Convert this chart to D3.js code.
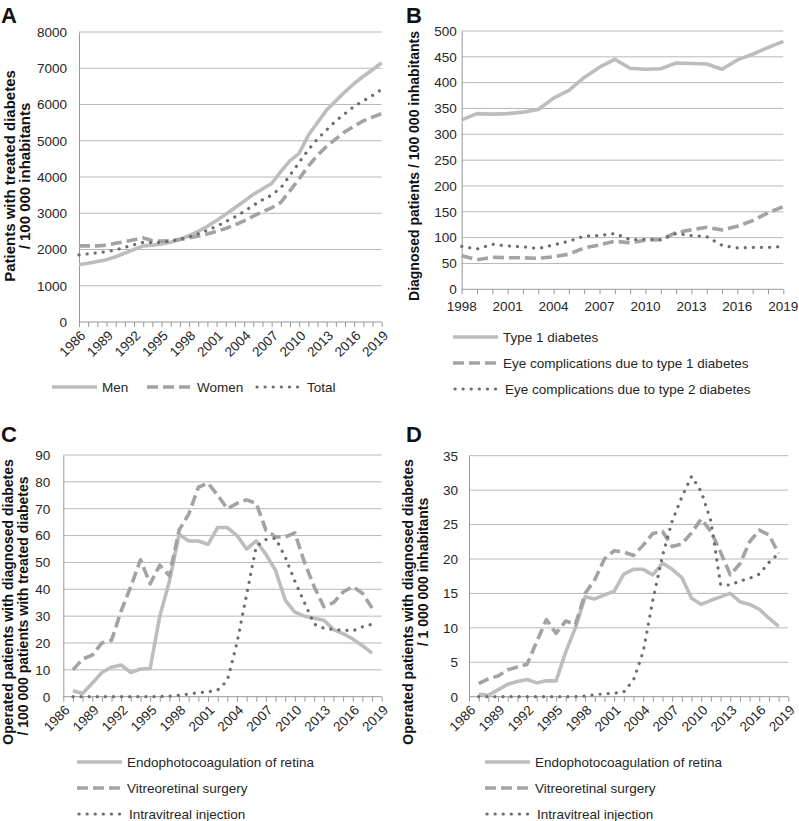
<!DOCTYPE html>
<html>
<head>
<meta charset="utf-8">
<script src="https://cdn.jsdelivr.net/npm/d3@7"></script>
<style>
  body { margin: 0; background: #fff; }
  svg { display: block; font-family: "Liberation Sans", Arial, sans-serif; }
</style>
</head>
<body>
<svg id="chart" width="799" height="821"></svg>
<script>
// ---------- DATA ----------
const yearsA = d3.range(1986, 2020);
const menA = [1580,1620,1670,1720,1800,1900,2000,2100,2120,2150,2200,2280,2380,2500,2640,2800,2970,3150,3330,3520,3670,3820,4150,4450,4650,5150,5500,5850,6100,6350,6580,6780,6960,7150];
const womenA = [2100,2100,2100,2120,2170,2220,2270,2320,2240,2230,2240,2280,2320,2370,2430,2500,2580,2680,2790,2920,3040,3150,3300,3620,3950,4300,4600,4850,5050,5250,5400,5550,5650,5750];
const totalA = [1850,1880,1910,1940,1990,2060,2130,2200,2190,2200,2230,2280,2350,2430,2530,2640,2770,2900,3050,3220,3370,3500,3700,4050,4400,4750,5050,5300,5550,5750,5950,6100,6250,6420];

const yearsB = d3.range(1998, 2020);
const type1B = [328,340,339,340,343,348,370,385,410,430,445,428,426,427,438,437,436,426,444,455,468,480];
const eyeT1B = [65,57,62,61,61,60,63,68,80,86,93,90,95,96,110,115,120,115,122,133,148,160];
const eyeT2B = [83,78,87,84,82,79,86,93,103,104,108,96,97,96,108,104,102,85,80,81,81,83];

const yearsCD = d3.range(1987, 2019);
const endoC = [2.2,1.2,5,9,11,11.8,9,10.3,10.5,30,43,60.5,58,58,56.7,63,63,60,55,58,53,47,36,31.5,30,29.2,28.5,25,23.5,21.5,19,16.2];
const vitreoC = [10,14,15.5,20,21,32,41,51,42,49,45,62,68,78,79.5,75,70,72,73.3,72,62,59.5,59.5,61,50,41,33.5,35,39,41,38.5,33];
const injectC = [0,0,0,0,0,0,0,0,0,0.1,0.2,0.5,1,1.5,1.8,2.5,6,20,38,56,58.5,59,52,43,35,27,25.5,25,24.8,24.5,26,27];

const endoD = [0.4,0.2,1,1.8,2.2,2.5,2.0,2.3,2.3,6.5,10,14.5,14.2,14.8,15.3,17.8,18.5,18.5,17.7,19.4,18.5,17.3,14.3,13.4,14,14.5,15,13.8,13.4,12.7,11.4,10.2];
const vitreoD = [1.9,2.6,3,3.9,4.3,4.7,8,11.2,9.2,11,10.5,15,17,20,21.2,21,20.5,22,23.7,24,21.8,22.2,23.8,25.8,24,21,17.7,19.3,22.5,24.2,23.5,20.8];
const injectD = [0,0,0,0,0,0,0,0,0,0,0,0.1,0.3,0.4,0.5,0.7,2.4,6.5,14,20.5,25.5,29,32,29.8,25.5,16.3,16.2,16.8,17.2,17.8,19.5,20.8];

const tickYearsA = d3.range(1986, 2020, 3);
const tickYearsB = d3.range(1998, 2020, 3);

// ---------- STYLES ----------
const styles = {
  solid:  { stroke: "#bdbdbd", width: 3.6, dash: null, cap: "butt" },
  dashed: { stroke: "#a3a3a3", width: 3.6, dash: "11,5", cap: "butt" },
  dotted: { stroke: "#6e6e6e", width: 3.2, dash: "0.1,8", cap: "round" }
};

const svg = d3.select("#chart");
const GRID = "#b8b8b8", AXIS = "#999999", TEXT = "#262626";

function panel(cfg) {
  const g = svg.append("g");
  const x = d3.scaleLinear().domain(cfg.xDomain).range([cfg.x0, cfg.x1]);
  const y = d3.scaleLinear().domain([0, cfg.yMax]).range([cfg.yB, cfg.yT]);

  const yt = d3.range(0, cfg.yMax + cfg.yStep / 2, cfg.yStep);
  g.append("g").selectAll("line").data(yt.filter(v => v > 0)).join("line")
    .attr("x1", cfg.x0).attr("x2", cfg.x1)
    .attr("y1", d => y(d)).attr("y2", d => y(d))
    .attr("stroke", GRID).attr("stroke-width", 1);

  const yAxis = d3.axisLeft(y).tickValues(yt).tickSize(0).tickPadding(cfg.yPad).tickFormat(d3.format("d"));
  const ya = g.append("g").attr("transform", `translate(${cfg.x0},0)`).call(yAxis);
  ya.select(".domain").attr("stroke", AXIS);
  ya.selectAll("text").attr("fill", TEXT).style("font-size", "13.5px");

  const allYears = d3.range(cfg.xDomain[0], cfg.xDomain[1] + 1);
  const xAxis = d3.axisBottom(x).tickValues(allYears).tickSize(5).tickFormat("");
  const xa = g.append("g").attr("transform", `translate(0,${cfg.yB})`).call(xAxis);
  xa.select(".domain").attr("stroke", AXIS).attr("d", `M${cfg.x0},0H${cfg.x1}`);
  xa.selectAll(".tick line").attr("stroke", AXIS);

  const lab = g.append("g");
  if (cfg.rotate) {
    lab.selectAll("text").data(cfg.xLabels).join("text")
      .attr("transform", d => `translate(${x(d) + 4},${cfg.yB + 11}) rotate(-45)`)
      .attr("text-anchor", "end").attr("dy", "0.35em")
      .attr("fill", TEXT).style("font-size", "13.5px").text(d => d);
  } else {
    lab.selectAll("text").data(cfg.xLabels).join("text")
      .attr("x", d => x(d)).attr("y", cfg.yB + 22)
      .attr("text-anchor", "middle")
      .attr("fill", TEXT).style("font-size", "13.5px").text(d => d);
  }

  const line = d3.line().x(d => x(d[0])).y(d => y(d[1]));
  cfg.series.forEach(s => {
    const st = styles[s.style];
    g.append("path")
      .datum(cfg.years.map((yr, i) => [yr, s.values[i]]))
      .attr("d", line).attr("fill", "none")
      .attr("stroke", st.stroke).attr("stroke-width", st.width)
      .attr("stroke-dasharray", st.dash).attr("stroke-linecap", st.cap)
      .attr("stroke-linejoin", "round");
  });

  cfg.titles.forEach(t => {
    g.append("text")
      .attr("transform", `translate(${t.x},${t.y}) rotate(-90)`)
      .attr("text-anchor", "middle").attr("dy", "0.35em")
      .attr("fill", "#111").style("font-size", t.size + "px").style("font-weight", "bold")
      .text(t.text);
  });

  g.append("text").attr("x", cfg.letter[0]).attr("y", cfg.letter[1])
    .style("font-size", "22px").style("font-weight", "bold").attr("fill", "#111")
    .text(cfg.letter[2]);

  cfg.legend.forEach(l => {
    const st = styles[l.style];
    g.append("line").attr("x1", l.x).attr("x2", l.x + 45).attr("y1", l.y).attr("y2", l.y)
      .attr("stroke", st.stroke).attr("stroke-width", st.width)
      .attr("stroke-dasharray", st.dash).attr("stroke-linecap", st.cap);
    g.append("text").attr("x", l.x + 50).attr("y", l.y).attr("dy", "0.35em")
      .attr("fill", TEXT).style("font-size", "13.5px").text(l.text);
  });
}

panel({
  xDomain: [1986, 2019], x0: 79, x1: 381.7, yT: 32, yB: 322, yMax: 8000, yStep: 1000, yPad: 12,
  rotate: true, xLabels: tickYearsA, years: yearsA,
  series: [{values: menA, style: "solid"}, {values: womenA, style: "dashed"}, {values: totalA, style: "dotted"}],
  titles: [{x: 9.5, y: 176, size: 15, text: "Patients with treated diabetes"}, {x: 24.5, y: 176, size: 15, text: "/ 100 000 inhabitants"}],
  letter: [1, 23, "A"],
  legend: [{x: 52, y: 387, style: "solid", text: "Men"}, {x: 147, y: 387, style: "dashed", text: "Women"}, {x: 257, y: 387, style: "dotted", text: "Total"}]
});

panel({
  xDomain: [1998, 2019], x0: 461.7, x1: 783.3, yT: 31, yB: 289.3, yMax: 500, yStep: 50, yPad: 5,
  rotate: false, xLabels: tickYearsB, years: yearsB,
  series: [{values: type1B, style: "solid"}, {values: eyeT1B, style: "dashed"}, {values: eyeT2B, style: "dotted"}],
  titles: [{x: 414, y: 166, size: 14, text: "Diagnosed patients / 100 000 inhabitants"}],
  letter: [406, 23, "B"],
  legend: [{x: 453, y: 337, style: "solid", text: "Type 1 diabetes"},
           {x: 453, y: 363, style: "dashed", text: "Eye complications due to type 1 diabetes"},
           {x: 455, y: 389, style: "dotted", text: "Eye complications due to type 2 diabetes"}]
});

panel({
  xDomain: [1986, 2019], x0: 63.3, x1: 381.7, yT: 455, yB: 696.7, yMax: 90, yStep: 10, yPad: 13,
  rotate: true, xLabels: tickYearsA, years: yearsCD,
  series: [{values: endoC, style: "solid"}, {values: vitreoC, style: "dashed"}, {values: injectC, style: "dotted"}],
  titles: [{x: 8.5, y: 602, size: 14, text: "Operated patients with diagnosed diabetes"}, {x: 23, y: 606, size: 14, text: "/ 100 000 patients with treated diabetes"}],
  letter: [1, 442, "C"],
  legend: [{x: 77, y: 762, style: "solid", text: "Endophotocoagulation of retina"},
           {x: 77, y: 788, style: "dashed", text: "Vitreoretinal surgery"},
           {x: 79, y: 814, style: "dotted", text: "Intravitreal injection"}]
});

panel({
  xDomain: [1986, 2019], x0: 469, x1: 788.3, yT: 455.7, yB: 696.7, yMax: 35, yStep: 5, yPad: 11,
  rotate: true, xLabels: tickYearsA, years: yearsCD,
  series: [{values: endoD, style: "solid"}, {values: vitreoD, style: "dashed"}, {values: injectD, style: "dotted"}],
  titles: [{x: 408.5, y: 602, size: 14, text: "Operated patients with diagnosed diabetes"}, {x: 423, y: 572, size: 14, text: "/ 1 000 000 inhabitants"}],
  letter: [406, 442, "D"],
  legend: [{x: 485, y: 762, style: "solid", text: "Endophotocoagulation of retina"},
           {x: 485, y: 788, style: "dashed", text: "Vitreoretinal surgery"},
           {x: 487, y: 814, style: "dotted", text: "Intravitreal injection"}]
});
</script>
</body>
</html>
